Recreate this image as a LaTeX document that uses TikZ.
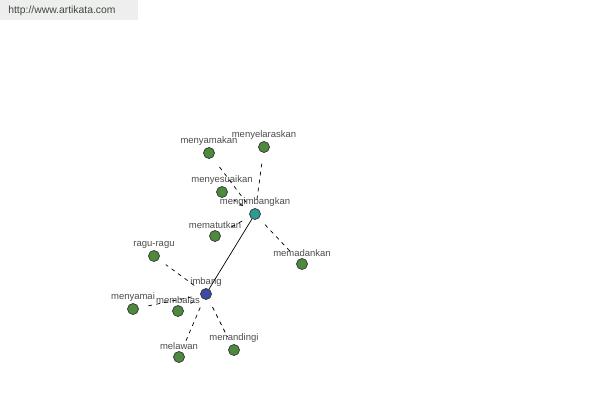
\documentclass[tikz,border=0pt]{standalone}
\usepackage{fontspec}
\setmainfont{Liberation Sans}
\usepackage{tikz}
\usetikzlibrary{positioning}

\definecolor{leafgreen}{HTML}{4E8A3E}
\definecolor{rootblue}{HTML}{3A4DA0}
\definecolor{midteal}{HTML}{2E9A90}
\definecolor{urlbg}{HTML}{EEEEEE}
\definecolor{urltext}{HTML}{3C4A3C}

\begin{document}
\begin{tikzpicture}[
      x=0.02cm, y=-0.02cm,
      word/.style ={circle, draw=black!80, thin, fill=leafgreen, minimum size=0.22cm, inner sep=0pt,
                    label={[lbl]above:#1}},
      root/.style ={word=#1, fill=rootblue},
      hub/.style  ={word=#1, fill=midteal},
      lbl/.style  ={font=\fontsize{5.4}{6}\selectfont, text=black!70, inner sep=0pt, label distance=0.6pt},
      syn/.style  ={dash pattern=on 2.2pt off 2.4pt, thin, shorten <=5pt, shorten >=5pt},
      link/.style ={thin}
    ]
    \useasboundingbox (0,0) rectangle (600,400);

    % site banner
    \fill [urlbg] (0,0) rectangle (138,20);
    \node [font=\fontsize{5.9}{7}\selectfont, text=urltext, anchor=west, inner sep=0pt] (site) at (8,11) {http://www.artikata.com};

    % the two centres
    \node [root=imbang] (imbang) at (206,294) {};
    \node [hub=mengimbangkan] (mengimbangkan) at (255,214) {};

    % words round mengimbangkan
    \node [word=menyelaraskan] (menyelaraskan) at (264,147) {};
    \node [word=menyamakan] (menyamakan) at (209,153) {};
    \node [word=menyesuaikan] (menyesuaikan) at (222,192) {};
    \node [word=mematutkan] (mematutkan) at (215,236) {};
    \node [word=memadankan] (memadankan) at (302,264) {};

    % words round imbang
    \node [word=ragu-ragu] (ragu) at (154,256) {};
    \node [word=menyamai] (menyamai) at (133,309) {};
    \node [word=membalas] (membalas) at (178,311) {};
    \node [word=melawan] (melawan) at (179,357) {};
    \node [word=menandingi] (menandingi) at (234,350) {};

    \draw [link] (imbang) -- (mengimbangkan) ;

    \draw [syn] (mengimbangkan) -- (menyelaraskan) ;
    \draw [syn] (mengimbangkan) -- (menyamakan) ;
    \draw [syn] (mengimbangkan) -- (menyesuaikan) ;
    \draw [syn] (mengimbangkan) -- (mematutkan) ;
    \draw [syn] (mengimbangkan) -- (memadankan) ;

    \draw [syn] (imbang) -- (ragu) ;
    \draw [syn] (imbang) -- (menyamai) ;
    \draw [syn] (imbang) -- (membalas) ;
    \draw [syn] (imbang) -- (melawan) ;
    \draw [syn] (imbang) -- (menandingi) ;
  \end{tikzpicture}
\end{document}
